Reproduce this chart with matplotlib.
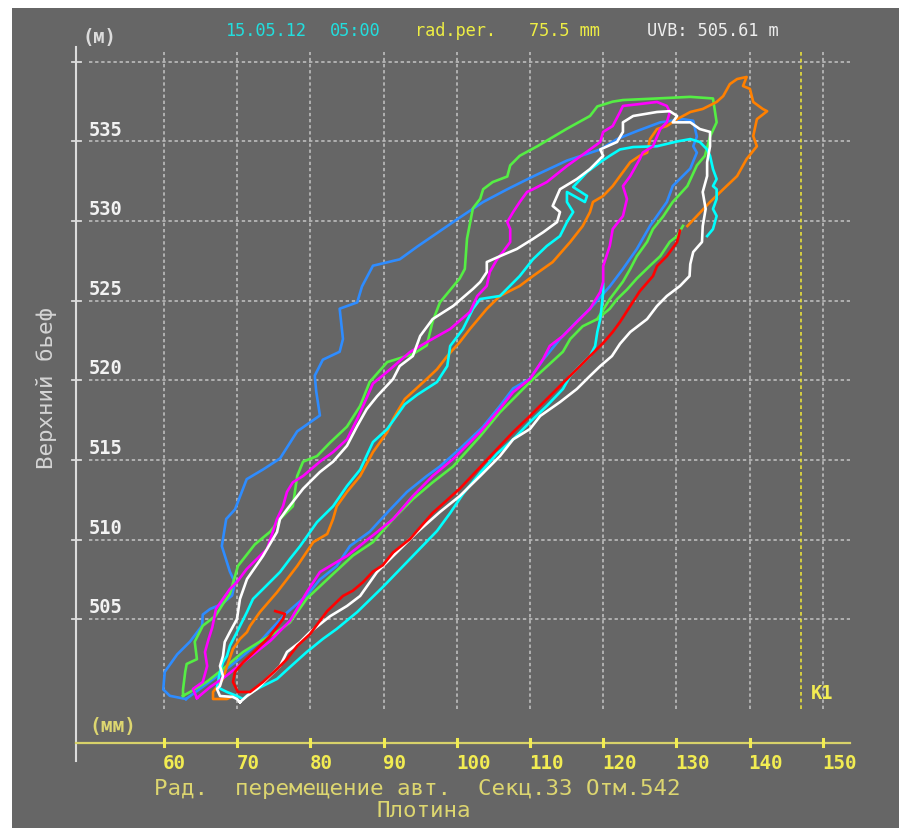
import matplotlib
matplotlib.use('Agg')
import matplotlib.pyplot as plt
from matplotlib.patches import Rectangle

# ---------------- data ----------------
x_ticks = [60, 70, 80, 90, 100, 110, 120, 130, 140, 150]
y_ticks = [505, 510, 515, 520, 525, 530, 535, 540]
y_labels = ['505', '510', '515', '520', '525', '530', '535']
k1_value = 147.0

blue_x = [63.0, 60.8, 59.9, 60.1, 61.8, 63.55, 65.2, 65.3, 66.3, 67.9, 69.3, 69.7, 69.0, 67.9, 68.5, 69.7,
          71.3, 73.5, 75.85, 78.2, 81.3, 80.8, 80.6, 81.7, 84.0, 84.45, 84.0, 86.4, 87.05, 88.55, 92.2,
          94.6, 98.1, 100.0, 103.6, 106.9, 110.4, 115.05, 119.6, 121.9, 124.6, 127.8, 130.9, 132.3,
          132.8, 132.3, 132.8, 131.9, 129.5, 128.7, 126.4, 124.6, 122.7, 120.9, 118.2, 116.4, 114.1,
          111.8, 110.0, 107.7, 105.9, 103.6, 100.4, 97.7, 95.9, 93.2, 90.5, 88.1, 85.4, 83.6, 81.3,
          79.5, 76.5, 73.1, 69.7, 66.3, 63.0]
blue_y = [500.0, 500.2, 500.6, 501.7, 502.8, 503.6, 504.6, 505.3, 505.65, 505.96, 506.5, 507.3, 508.0,
          509.6, 511.3, 511.9, 513.8, 514.4, 515.1, 516.8, 517.8, 519.3, 520.3, 521.3, 521.8, 522.6,
          524.5, 524.9, 525.9, 527.2, 527.6, 528.4, 529.5, 530.1, 531.2, 532.0, 532.8, 533.8, 534.5,
          535.15, 535.65, 536.2, 536.4, 536.3, 535.3, 534.7, 534.3, 533.3, 532.2, 531.2, 529.7, 528.25,
          527.0, 525.9, 524.5, 523.7, 522.6, 521.3, 520.1, 519.5, 518.4, 517.1, 515.7, 514.6, 514.0,
          513.0, 511.7, 510.5, 509.6, 508.35, 507.5, 506.5, 505.3, 503.6, 502.3, 501.1, 500.0]

green_x = [62.6, 62.6, 62.9, 63.1, 64.5, 64.2, 65.3, 67.0, 68.1, 69.0, 70.1, 72.4, 74.5, 75.85, 77.6,
           78.2, 79.0, 80.9, 82.7, 85.0, 86.8, 88.1, 90.5, 94.0, 95.9, 96.7, 97.7, 100.4, 101.1, 101.4,
           102.2, 103.2, 103.6, 104.9, 106.9, 107.3, 108.6, 111.0, 115.05, 118.2, 119.2, 121.3, 122.7,
           127.35, 131.9, 135.0, 135.5, 134.6, 133.9, 132.8, 131.5, 129.5, 128.2, 126.8, 126.0, 124.6,
           123.7, 122.7, 120.9, 119.2, 117.2, 115.5, 114.5, 110.0, 105.9, 103.2, 99.5, 96.7, 94.0,
           91.3, 88.55, 85.8, 83.1, 79.5, 77.2, 75.4, 73.1, 70.8, 68.1, 65.9, 63.55, 62.6]
green_y = [500.2, 500.6, 501.7, 502.2, 502.5, 503.6, 504.6, 505.2, 506.0, 506.6, 508.35, 509.7, 510.5,
           511.3, 512.1, 514.0, 514.9, 515.25, 516.1, 517.1, 518.4, 519.9, 521.15, 521.65, 522.2, 523.7,
           524.9, 526.4, 527.0, 528.9, 530.8, 531.4, 532.0, 532.45, 532.8, 533.5, 534.1, 534.7, 535.8,
           536.6, 537.2, 537.5, 537.6, 537.7, 537.8, 537.7, 536.2, 535.3, 534.1, 533.5, 532.2, 531.2,
           530.3, 529.5, 528.7, 527.8, 527.0, 526.2, 525.1, 523.85, 523.4, 522.6, 521.8, 519.9, 518.0,
           516.5, 514.6, 513.6, 512.55, 511.3, 509.85, 509.0, 507.85, 506.3, 504.8, 504.2, 503.6,
           502.95, 501.9, 501.1, 500.44, 500.2]

green2_x = [130.9, 130.1, 129.1, 127.8, 126.4, 124.6, 123.25, 121.9, 120.9, 119.2]
green2_y = [529.7, 529.06, 528.7, 527.8, 527.2, 526.4, 525.7, 525.1, 524.5, 523.85]

magenta_x = [64.5, 63.96, 65.3, 65.9, 65.6, 66.1, 66.6, 67.1, 69.0, 69.97, 71.3, 73.1, 74.07, 75.44,
             76.26, 76.8, 77.6, 79.0, 81.3, 83.1, 85.0, 86.4, 87.2, 88.55, 90.9, 93.6, 95.9, 99.1,
             101.8, 102.8, 104.1, 104.5, 105.5, 106.3, 107.3, 107.3, 106.9, 107.7, 108.6, 109.6, 110.4,
             112.3, 115.05, 118.2, 119.6, 120.0, 121.3, 122.3, 122.7, 125.0, 127.35, 128.7, 129.1, 128.7,
             127.8, 126.8, 125.4, 125.0, 123.7, 122.7, 123.25, 122.7, 121.3, 120.9, 120.0, 120.0, 119.6,
             118.2, 116.8, 114.5, 112.7, 111.8, 110.0, 107.7, 105.5, 103.2, 99.5, 96.7, 94.0, 91.3, 89.1,
             85.0, 81.3, 79.5, 77.2, 74.5, 71.75, 68.3, 66.3, 64.5]
magenta_y = [500.06, 500.63, 501.07, 502.07, 502.95, 503.77, 504.5, 505.65, 506.9, 507.34, 508.16,
             508.98, 509.4, 511.3, 512.1, 513.0, 513.6, 514.0, 514.9, 515.5, 516.3, 517.58, 518.4, 519.8,
             520.7, 521.78, 522.4, 523.23, 524.3, 525.3, 525.93, 526.8, 527.6, 528.06, 528.69, 529.5,
             529.94, 530.57, 531.2, 531.83, 532.0, 532.45, 533.46, 534.5, 534.97, 535.6, 535.97, 536.85,
             537.23, 537.35, 537.48, 537.23, 536.85, 536.2, 535.78, 534.7, 534.3, 533.9, 532.83, 532.2,
             531.39, 530.32, 529.5, 528.44, 527.18, 526.18, 525.55, 524.49, 523.85, 522.79, 522.16,
             521.34, 520.09, 519.27, 518.0, 516.76, 515.07, 514.0, 512.74, 511.3, 510.48, 508.98, 507.97,
             506.7, 504.9, 503.64, 502.64, 501.38, 500.75, 500.06]

white_x = [70.38, 69.97, 69.4, 67.65, 67.24, 67.65, 68.06, 67.65, 68.06, 68.3, 69.0, 69.97, 70.38, 71.34,
           73.52, 75.44, 75.85, 76.8, 79.0, 81.3, 83.1, 85.0, 86.4, 87.7, 89.1, 91.3, 92.2, 94.0, 95.0,
           96.7, 99.5, 102.2, 103.2, 104.1, 104.1, 105.9, 108.2, 110.4, 111.8, 113.7, 114.1, 113.1,
           113.7, 114.1, 116.4, 118.2, 120.0, 119.6, 121.9, 122.7, 122.7, 124.1, 127.35, 129.1, 130.1,
           129.5, 131.9, 133.2, 134.6, 134.6, 134.2, 134.2, 133.6, 134.0, 133.6, 133.5, 132.3, 131.9,
           131.8, 130.5, 128.7, 127.35, 126.0, 123.7, 122.3, 121.2, 119.6, 118.2, 116.4, 114.1, 111.4,
           110.0, 107.7, 105.9, 103.2, 100.4, 97.7, 94.6, 91.3, 89.1, 86.8, 85.0, 82.7, 79.95, 78.6,
           76.8, 75.85, 74.07, 72.7, 71.34, 70.38]
white_y = [499.8, 500.0, 500.13, 500.19, 500.63, 500.82, 501.44, 502.07, 502.7, 503.58, 504.2, 505.02,
           506.28, 507.53, 508.98, 510.48, 511.3, 511.9, 513.2, 514.25, 514.9, 515.9, 517.14, 518.2,
           519.0, 520.09, 520.9, 521.53, 522.79, 523.85, 524.67, 525.74, 526.18, 526.8, 527.43, 527.8,
           528.25, 528.88, 529.3, 529.94, 530.57, 530.95, 531.58, 532.0, 532.64, 533.27, 534.1, 534.5,
           534.97, 535.6, 536.2, 536.6, 536.85, 536.9, 536.6, 536.2, 536.2, 535.78, 535.6, 534.7,
           533.7, 532.83, 531.83, 530.76, 529.69, 528.69, 528.06, 527.3, 526.55, 525.93, 525.3, 524.67,
           523.85, 523.04, 522.3, 521.53, 520.9, 520.28, 519.46, 518.64, 517.77, 516.95, 516.3, 515.25,
           514.0, 512.74, 511.74, 510.48, 508.98, 507.97, 506.47, 505.84, 505.2, 504.2, 503.58, 502.95,
           502.07, 501.26, 500.63, 500.19, 499.8]

cyan_x = [120.0, 120.0, 119.8, 119.6, 119.2, 118.9, 118.2, 116.8, 115.5, 114.5, 112.3, 110.0, 107.7,
          105.5, 103.2, 100.85, 99.1, 97.3, 93.6, 89.9, 86.4, 83.6, 81.7, 79.5, 77.2, 75.44, 72.7, 71.75,
          70.8, 69.97, 68.6, 67.24, 67.65, 68.06, 68.6, 69.0, 69.97, 71.34, 72.16, 73.52, 75.85, 77.2,
          78.6, 80.9, 83.1, 85.0, 86.8, 88.55, 90.5, 92.9, 94.6, 97.3, 98.7, 99.1, 100.85, 102.2, 103.2,
          105.9, 108.6, 110.4, 112.3, 114.1, 115.05, 115.9, 115.05, 115.05, 117.5, 117.8, 115.9, 117.8,
          119.6, 120.9, 122.3, 124.1, 127.35, 130.1, 131.9, 133.2, 134.2, 134.6, 135.0, 135.5, 135.0,
          135.5, 135.5, 135.0, 135.5, 135.0, 134.2]
cyan_y = [526.05, 525.55, 524.67, 523.85, 523.04, 522.16, 521.53, 520.9, 520.28, 519.46, 518.4, 517.39,
          516.3, 515.4, 514.2, 512.87, 511.68, 510.55, 508.79, 507.03, 505.46, 504.4, 503.77, 502.95,
          502.0, 501.26, 500.63, 500.38, 500.0, 500.19, 500.44, 500.75, 501.7, 502.3, 502.7, 503.33,
          504.2, 505.46, 506.28, 506.9, 507.97, 508.79, 509.6, 511.1, 512.1, 513.37, 514.4, 516.13,
          516.95, 518.5, 519.1, 519.9, 520.9, 522.16, 523.23, 524.49, 525.11, 525.3, 526.55, 527.6,
          528.44, 529.06, 529.94, 530.57, 531.2, 531.83, 531.2, 531.58, 532.14, 533.08, 533.7, 534.1,
          534.5, 534.65, 534.7, 535.0, 535.15, 534.97, 534.5, 534.1, 533.27, 532.64, 532.2, 532.0,
          531.39, 530.76, 530.32, 529.5, 529.06]

orange_x = [69.43, 68.6, 66.7, 66.7, 68.06, 68.6, 69.43, 70.38, 71.34, 71.75, 73.11, 75.44, 78.2, 80.4,
            82.3, 83.1, 83.6, 85.0, 86.8, 88.55, 90.5, 91.3, 92.9, 95.9, 97.3, 98.7, 100.4, 101.8, 104.1,
            105.9, 108.6, 110.4, 113.1, 115.5, 117.2, 118.2, 118.6, 120.0, 121.3, 122.3, 123.7, 125.0,
            126.0, 126.4, 127.35, 128.7, 130.1, 131.9, 133.6, 135.5, 136.4, 137.3, 138.3, 139.6, 139.1,
            140.05, 140.5, 141.8, 142.4, 141.0, 140.5, 141.0, 139.6, 138.3, 136.4, 134.6, 132.8, 131.5]
orange_y = [500.19, 500.0, 500.0, 500.44, 501.26, 502.07, 503.14, 503.77, 504.2, 504.58, 505.46, 506.7,
            508.35, 509.85, 510.36, 511.3, 512.1, 513.0, 514.0, 515.5, 516.76, 517.58, 518.83, 520.09,
            520.7, 521.53, 522.4, 523.23, 524.49, 525.3, 525.93, 526.55, 527.43, 528.69, 529.69, 530.57,
            531.2, 531.58, 532.2, 532.83, 533.7, 534.1, 534.3, 535.15, 535.78, 535.97, 536.4, 536.85,
            537.04, 537.48, 537.85, 538.6, 538.92, 539.05, 538.48, 538.3, 537.48, 537.04, 536.9, 536.4,
            535.34, 534.7, 533.9, 532.83, 532.0, 531.2, 530.32, 529.69]

red_x = [130.5, 130.1, 128.7, 127.35, 126.8, 125.0, 123.7, 122.3, 121.3, 120.0, 118.2, 116.4, 115.05,
         112.3, 110.0, 107.7, 104.9, 103.2, 100.4, 96.7, 93.6, 91.3, 89.9, 88.55, 87.2, 85.8, 84.45,
         82.3, 79.95, 78.2, 76.8, 75.44, 73.52, 71.75, 70.1, 69.43, 69.7, 70.8, 72.7, 74.48, 76.26,
         76.53, 75.2]
red_y = [529.4, 528.69, 527.8, 527.18, 526.55, 525.6, 524.67, 523.67, 523.04, 522.35, 521.53, 520.7,
         520.09, 518.83, 517.77, 516.76, 515.4, 514.56, 513.2, 511.68, 510.04, 509.2, 508.4, 508.0,
         507.34, 506.8, 506.47, 505.52, 504.08, 503.33, 502.5, 501.88, 501.07, 500.44, 500.44, 501.07,
         501.7, 502.3, 503.14, 503.95, 505.02, 505.34, 505.52]

# ---------------- layout ----------------
W, H = 899, 829
BG = '#666666'
GRID = '#c4c4c4'
YEL = '#f2ec52'
PALE_YEL = '#ddd670'
LGRAY = '#dcdcdc'
MONO = 'DejaVu Sans Mono'

fig = plt.figure(figsize=(W / 100, H / 100), dpi=100, facecolor='white')
fig.patches.append(Rectangle((12 / W, 0), 1 - 12 / W, 1 - 9 / H, transform=fig.transFigure,
                             facecolor=BG, edgecolor='none', zorder=-10))


def fx(px):
    return px / W


def fy(py):
    return 1 - py / H


ax = fig.add_axes([fx(76), fy(743.5), (850 - 76) / W, (743.5 - 48) / H])
ax.set_zorder(5)
ax.set_xlim(47.98, 153.72)
ax.set_ylim(497.27, 540.93)
ax.axis('off')

# grid
for v in x_ticks:
    ax.plot([v, v], [499.37, 540.6], color=GRID, lw=1.1, ls=(0, (2.2, 1.8)), zorder=1, clip_on=False)
for v in y_ticks:
    ax.plot([49.75, 153.7], [v, v], color=GRID, lw=1.1, ls=(0, (2.2, 1.8)), zorder=1, clip_on=False)

# K1 line
ax.plot([k1_value, k1_value], [499.37, 540.6], color='#e8e03a', lw=1.2, ls=(0, (2.2, 1.8)),
        zorder=1, clip_on=False)

# axes lines
ax.plot([47.98, 47.98], [496.1, 540.93], color=LGRAY, lw=1.5, clip_on=False, zorder=2)
for v in y_ticks:
    ax.plot([47.4, 48.6], [v, v], color=LGRAY, lw=1.3, clip_on=False, zorder=2)
ax.plot([47.98, 153.72], [497.27, 497.27], color='#d8d26a', lw=1.6, clip_on=False, zorder=2)
for v in x_ticks:
    ax.plot([v, v], [497.04, 497.52], color=YEL, lw=2.2, clip_on=False, zorder=2)

# curves
curves = [
    (blue_x, blue_y, '#2e8cff'),
    (green_x, green_y, '#55ee44'),
    (green2_x, green2_y, '#55ee44'),
    (orange_x, orange_y, '#ff8000'),
    (cyan_x, cyan_y, '#00ffff'),
    (magenta_x, magenta_y, '#ff00ff'),
    (white_x, white_y, '#ffffff'),
    (red_x, red_y, '#ff0000'),
]
for i, (xs, ys, c) in enumerate(curves):
    ax.plot(xs, ys, color=c, lw=1.9, solid_joinstyle='round', zorder=3 + i)

# tick labels
for v, lab in zip(y_ticks, y_labels):
    ax.text(49.75, v + 0.78, lab, color='#f2f2f2', fontsize=13.5, fontweight='bold',
            family=MONO, ha='left', va='center')
for v in x_ticks:
    ax.text(v - 0.12, 496.0, str(v), color=YEL, fontsize=13.8, fontweight='bold',
            family=MONO, ha='left', va='center', clip_on=False)

ax.text(k1_value + 1.4, 500.44, 'К1', color=YEL, fontsize=13.5, fontweight='bold',
        family=MONO, ha='left', va='center')

# figure texts
fig.text(fx(82), fy(37), '(м)', color=LGRAY, fontsize=13.5, fontweight='bold', family=MONO,
         ha='left', va='center')
fig.text(fx(89), fy(727), '(мм)', color=PALE_YEL, fontsize=14, fontweight='bold', family=MONO,
         ha='left', va='center')

hdr = 12.2
fig.text(fx(226), fy(31.5), '15.05.12', color='#22dede', fontsize=hdr, family=MONO, ha='left', va='center')
fig.text(fx(330), fy(31.5), '05:00', color='#22dede', fontsize=hdr, family=MONO, ha='left', va='center')
fig.text(fx(415), fy(31.5), 'rad.per.', color='#eeee44', fontsize=hdr, family=MONO, ha='left', va='center')
fig.text(fx(529), fy(31.5), '75.5 mm', color='#eeee44', fontsize=hdr, family=MONO, ha='left', va='center')
fig.text(fx(647), fy(31.5), 'UVB: 505.61 m', color='#eeeeee', fontsize=hdr, family=MONO, ha='left', va='center')

fig.text(fx(154), fy(789), 'Рад.  перемещение авт.  Секц.33 Отм.542', color=PALE_YEL, fontsize=16.2,
         family=MONO, ha='left', va='center')
fig.text(fx(376), fy(811), 'Плотина', color=PALE_YEL, fontsize=16.2, family=MONO, ha='left', va='center')
fig.text(fx(47), fy(388), 'Верхний бьеф', color='#d4d4d4', fontsize=16.2, family=MONO,
         rotation=90, ha='center', va='center')

fig.savefig('out.png', dpi=100, facecolor='white')
